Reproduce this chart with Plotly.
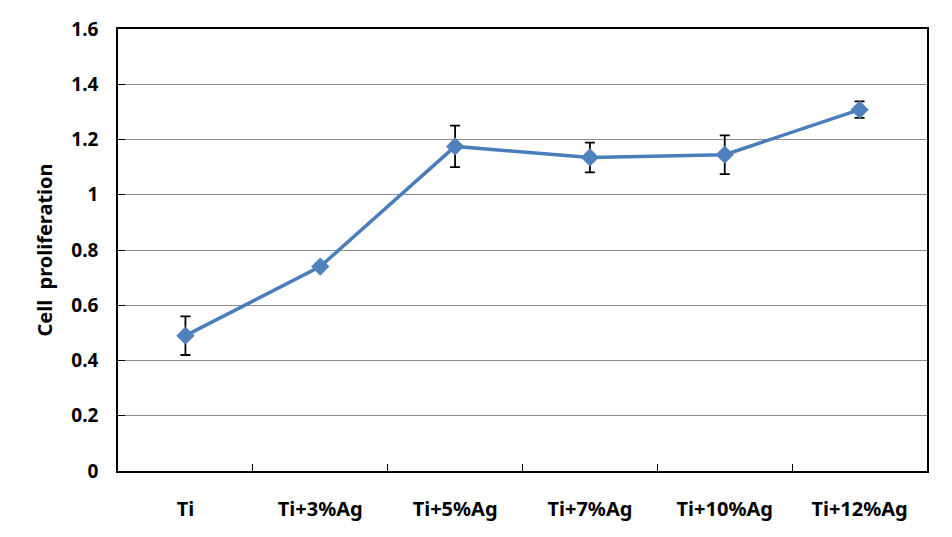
import plotly.graph_objects as go

categories = ["Ti", "Ti+3%Ag", "Ti+5%Ag", "Ti+7%Ag", "Ti+10%Ag", "Ti+12%Ag"]
values = [0.49, 0.74, 1.175, 1.135, 1.145, 1.308]
errors = [0.07, 0.0, 0.075, 0.054, 0.07, 0.03]
y_ticks = [0, 0.2, 0.4, 0.6, 0.8, 1, 1.2, 1.4, 1.6]
y_ticktext = ["0", "0.2", "0.4", "0.6", "0.8", "1", "1.2", "1.4", "1.6"]

FAM = "Noto Sans, DejaVu Sans, sans-serif"

fig = go.Figure()
fig.add_trace(go.Scatter(
    x=categories, y=values,
    mode="lines+markers",
    line=dict(color="#4A7EBB", width=3.5),
    marker=dict(symbol="diamond", size=14, color="#4F81BD", line=dict(width=0)),
    error_y=dict(type="data", array=errors, visible=True, color="black",
                 thickness=1.8, width=5),
    showlegend=False,
))

# the page body adds an 8px offset; margins compensate for it
fig.update_layout(
    width=952, height=537,
    margin=dict(l=110, r=33, t=21, b=74, autoexpand=False),
    plot_bgcolor="white", paper_bgcolor="white",
    font=dict(family=FAM, size=19, color="black", weight="bold"),
    xaxis=dict(
        type="category",
        range=[-0.5, len(categories) - 0.5],
        tickson="boundaries",
        ticks="inside", ticklen=7, tickcolor="black", tickwidth=1,
        showline=True, linecolor="black", linewidth=1.5, mirror=True,
        showgrid=False,
        tickfont=dict(family=FAM, size=20, color="black", weight="bold"),
        ticklabelstandoff=19,
    ),
    yaxis=dict(
        range=[0, 1.6],
        tickvals=y_ticks, ticktext=y_ticktext,
        ticks="inside", ticklen=7, tickcolor="black",
        showline=True, linecolor="black", linewidth=1.5, mirror=True,
        showgrid=True, gridcolor="#8C8C8C", gridwidth=1,
        zeroline=False,
        tickfont=dict(family=FAM, size=19, color="black", weight="bold"),
        ticklabelstandoff=14,
        title=dict(text="Cell\u00a0\u00a0proliferation", standoff=13,
                   font=dict(family=FAM, size=20, color="black", weight="bold")),
    ),
)

fig.write_html("out.html")
